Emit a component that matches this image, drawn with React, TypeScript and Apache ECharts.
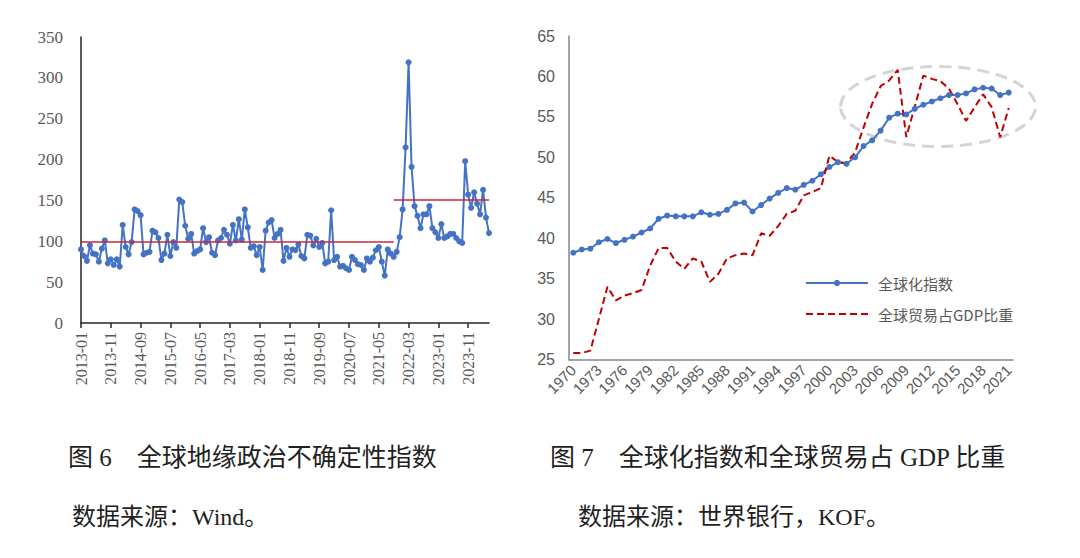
import React, { useEffect, useRef } from "react";
import * as echarts from "echarts";

// ---------- Figure 6: geopolitical risk index (monthly, 2013-01 .. 2024-06) ----------
const gprStartYear = 2013;
const gprValues = [
  90, 82, 76, 95, 85, 84, 75, 91, 101, 73,
  78, 71, 78, 69, 120, 93, 84, 99, 139, 137,
  132, 84, 86, 87, 113, 111, 104, 77, 85, 108,
  82, 99, 92, 151, 148, 119, 103, 109, 85, 88,
  90, 116, 99, 105, 86, 83, 101, 104, 114, 108,
  97, 120, 101, 127, 102, 139, 117, 92, 94, 83,
  93, 65, 113, 123, 126, 104, 109, 114, 76, 92,
  81, 90, 89, 96, 82, 79, 108, 107, 95, 103,
  93, 98, 73, 75, 138, 77, 81, 69, 70, 67,
  65, 81, 77, 72, 71, 65, 79, 75, 80, 89,
  93, 75, 58, 90, 85, 81, 87, 105, 139, 215,
  319, 191, 143, 131, 116, 133, 133, 143, 116, 111,
  104, 121, 104, 106, 109, 109, 104, 100, 98, 198,
  157, 141, 160, 146, 133, 163, 129, 110,
];
const gprMonths: string[] = gprValues.map((_, i) => {
  const y = gprStartYear + Math.floor(i / 12);
  const m = (i % 12) + 1;
  return `${y}-${m < 10 ? "0" + m : m}`;
});
const gprMeanLevels = [100, 151];
const gprMeanBreak = "2021-10";
const gprYTicks = { min: 0, max: 350, interval: 50 };

// ---------- Figure 7: globalization index & world trade / GDP (annual) ----------
const years: string[] = [];
for (let y = 1970; y <= 2021; y++) years.push(String(y));
const kofIndex = [
  38.2, 38.6, 38.7, 39.5, 39.9, 39.4, 39.8, 40.2, 40.7, 41.2,
  42.4, 42.8, 42.7, 42.7, 42.7, 43.2, 42.9, 43.0, 43.5, 44.3,
  44.4, 43.3, 44.1, 44.9, 45.6, 46.2, 46.0, 46.6, 47.1, 47.9,
  48.8, 49.4, 49.2, 50.0, 51.4, 52.1, 53.3, 54.9, 55.4, 55.3,
  56.0, 56.5, 56.9, 57.3, 57.7, 57.7, 57.9, 58.4, 58.6, 58.5,
  57.7, 58.0,
];
const tradeToGdp = [
  25.8, 25.8, 26.1, 30.0, 34.0, 32.3, 32.9, 33.2, 33.6, 36.6,
  38.8, 38.8, 37.1, 36.2, 37.5, 37.1, 34.6, 35.6, 37.5, 37.9,
  38.1, 37.9, 40.6, 40.3, 41.5, 43.0, 43.4, 45.3, 45.7, 46.2,
  50.2, 49.4, 49.3, 50.6, 53.7, 56.6, 58.8, 59.5, 60.8, 52.5,
  56.3, 60.1, 59.7, 59.4, 58.5, 56.6, 54.5, 56.2, 57.8, 56.2,
  52.5, 56.1,
];
const kofYTicks = { min: 25, max: 65, interval: 5 };
const seriesNames = ["全球化指数", "全球贸易占GDP比重"];

const captions = {
  fig6: "图 6　全球地缘政治不确定性指数",
  src6: "数据来源：Wind。",
  fig7: "图 7　全球化指数和全球贸易占 GDP 比重",
  src7: "数据来源：世界银行，KOF。",
};

const BLUE = "#4472c4";
const RED = "#c00000";
const MEAN_RED = "#c9283a";
const SERIF = "'Liberation Serif', 'Times New Roman', 'Noto Sans CJK SC', serif";
const SANS = "'Liberation Sans', Arial, 'Noto Sans CJK SC', sans-serif";
const CJK = "'Noto Sans CJK SC', 'Liberation Sans', sans-serif";

export default function App() {
  const ref = useRef<HTMLDivElement>(null);

  useEffect(() => {
    if (!ref.current) return;
    const chart = echarts.init(ref.current, undefined, { renderer: "svg" });
    const option: any = {
      animation: false,
      backgroundColor: "#ffffff",
      grid: [
        { left: 81, top: 37, width: 408, height: 286 },
        { left: 569, top: 36, width: 444, height: 323.5 },
      ],
      legend: {
        data: [
          { name: seriesNames[0] },
          { name: seriesNames[1], itemStyle: { opacity: 0 } },
        ],
        orient: "vertical",
        left: 800,
        top: 268,
        itemWidth: 62,
        itemHeight: 8,
        itemGap: 11,
        textStyle: {
          fontSize: 15,
          color: "#595959",
          fontFamily: CJK,
          padding: [0, 0, 0, 5],
          lineHeight: 20,
        },
      },
      xAxis: [
        {
          gridIndex: 0,
          type: "category",
          data: gprMonths,
          boundaryGap: false,
          axisLine: { lineStyle: { color: "#262626", width: 1.5 } },
          axisTick: {
            show: true,
            interval: 9,
            length: 5,
            lineStyle: { color: "#262626", width: 1.5 },
          },
          axisLabel: {
            interval: 9,
            rotate: 90,
            margin: 9,
            color: "#595959",
            fontFamily: SERIF,
            fontSize: 16,
          },
          splitLine: { show: false },
        },
        {
          gridIndex: 1,
          type: "category",
          data: years,
          boundaryGap: true,
          axisLine: { lineStyle: { color: "#868686", width: 1.5 } },
          axisTick: { show: false },
          axisLabel: {
            interval: 2,
            rotate: 45,
            margin: 8,
            color: "#595959",
            fontFamily: SANS,
            fontSize: 15,
          },
          splitLine: { show: false },
        },
      ],
      yAxis: [
        {
          gridIndex: 0,
          type: "value",
          ...gprYTicks,
          axisLine: { show: true, lineStyle: { color: "#262626", width: 1.5 } },
          axisTick: { show: false },
          splitLine: { show: false },
          axisLabel: {
            margin: 18,
            color: "#595959",
            fontFamily: SERIF,
            fontSize: 17,
          },
        },
        {
          gridIndex: 1,
          type: "value",
          ...kofYTicks,
          axisLine: { show: true, lineStyle: { color: "#868686", width: 1.5 } },
          axisTick: { show: false },
          splitLine: { show: false },
          axisLabel: {
            margin: 14,
            color: "#595959",
            fontFamily: SANS,
            fontSize: 16,
          },
        },
      ],
      series: [
        {
          name: "地缘政治不确定性指数",
          type: "line",
          xAxisIndex: 0,
          yAxisIndex: 0,
          data: gprValues,
          symbol: "circle",
          symbolSize: 6,
          showSymbol: true,
          showAllSymbol: true,
          lineStyle: { color: BLUE, width: 2 },
          itemStyle: { color: BLUE },
          markLine: {
            silent: true,
            symbol: "none",
            label: { show: false },
            lineStyle: { color: MEAN_RED, width: 1.5, type: "solid" },
            data: [
              [
                { coord: [gprMonths[0], gprMeanLevels[0]] },
                { coord: [gprMeanBreak, gprMeanLevels[0]] },
              ],
              [
                { coord: [gprMeanBreak, gprMeanLevels[1]] },
                { coord: [gprMonths[gprMonths.length - 1], gprMeanLevels[1]] },
              ],
            ],
          },
        },
        {
          name: seriesNames[0],
          type: "line",
          xAxisIndex: 1,
          yAxisIndex: 1,
          data: kofIndex,
          symbol: "circle",
          symbolSize: 6,
          showSymbol: true,
          showAllSymbol: true,
          lineStyle: { color: BLUE, width: 2 },
          itemStyle: { color: BLUE },
        },
        {
          name: seriesNames[1],
          type: "line",
          xAxisIndex: 1,
          yAxisIndex: 1,
          data: tradeToGdp,
          symbol: "none",
          lineStyle: { color: RED, width: 2, type: [7, 4] },
          itemStyle: { color: RED },
        },
      ],
      graphic: [
        {
          type: "ellipse",
          z: 0,
          silent: true,
          shape: { cx: 938, cy: 106.5, rx: 97.5, ry: 40 },
          style: { fill: "none", stroke: "#d4d4d4", lineWidth: 3, lineDash: [12, 7] },
        },
        {
          type: "text",
          left: 68,
          top: 445,
          style: { text: captions.fig6, font: `25px ${SERIF}`, fill: "#1f1f1f" },
        },
        {
          type: "text",
          left: 72,
          top: 505,
          style: { text: captions.src6, font: `24px ${SERIF}`, fill: "#1f1f1f" },
        },
        {
          type: "text",
          left: 550,
          top: 445,
          style: { text: captions.fig7, font: `25px ${SERIF}`, fill: "#1f1f1f" },
        },
        {
          type: "text",
          left: 578,
          top: 505,
          style: { text: captions.src7, font: `24px ${SERIF}`, fill: "#1f1f1f" },
        },
      ],
    };
    chart.setOption(option);
    return () => chart.dispose();
  }, []);

  return (
    <div
      ref={ref}
      style={{ position: "fixed", left: 0, top: 0, width: 1080, height: 558, background: "#fff" }}
    />
  );
}
